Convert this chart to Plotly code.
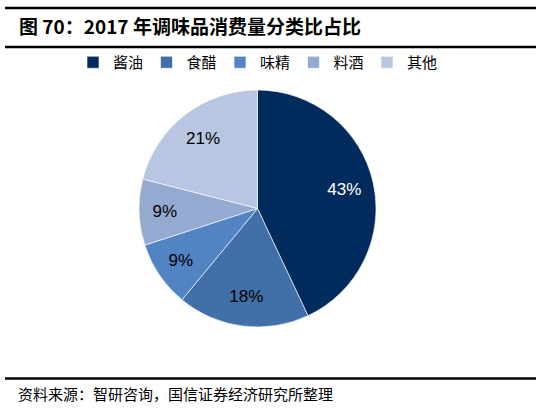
import plotly.graph_objects as go

# data
categories = ["酱油", "食醋", "味精", "料酒", "其他"]
shares = [43, 18, 9, 9, 21]
slice_colors = ["#002B5C", "#416FA8", "#5283C3", "#95AAD0", "#B8C6E2"]
label_colors = ["white", "black", "black", "black", "black"]

title_text = "图 70：2017 年调味品消费量分类比占比"
source_text = "资料来源：智研咨询，国信证券经济研究所整理"

W, H = 542, 409
cjk = "Noto Sans CJK SC"
pie_domain = dict(x=[139 / W, 376 / W], y=[1 - 327 / H, 1 - 90 / H])

fig = go.Figure()
fig.add_trace(go.Pie(
    labels=categories,
    values=shares,
    sort=False,
    direction="clockwise",
    rotation=0,
    marker=dict(colors=slice_colors, line=dict(color="white", width=0.6)),
    textinfo="none",
    hoverinfo="label+percent",
    domain=pie_domain,
))
# transparent ring on top only to place the % labels out toward the rim
fig.add_trace(go.Pie(
    labels=categories,
    values=shares,
    sort=False,
    direction="clockwise",
    rotation=0,
    hole=0.5,
    marker=dict(colors=["rgba(0,0,0,0)"] * len(shares), line=dict(width=0)),
    texttemplate="%{value}%",
    textposition="inside",
    insidetextorientation="horizontal",
    textfont=dict(family="Liberation Sans, Arial", size=17, color=label_colors),
    hoverinfo="skip",
    showlegend=False,
    domain=pie_domain,
))


def hline(y_px, x0=5, x1=536, width=2.4):
    fig.add_shape(type="line", xref="paper", yref="paper",
                  x0=x0 / W, x1=x1 / W, y0=1 - y_px / H, y1=1 - y_px / H,
                  line=dict(color="black", width=width), layer="above")


hline(8)
hline(47)
hline(378.5)

fig.add_annotation(text="<b>" + title_text + "</b>", xref="paper", yref="paper",
                   x=17 / W, y=1 - 26 / H, xanchor="left", yanchor="middle",
                   showarrow=False, font=dict(family=cjk, size=19, color="black"))
fig.add_annotation(text=source_text, xref="paper", yref="paper",
                   x=16 / W, y=1 - 393 / H, xanchor="left", yanchor="middle",
                   showarrow=False, font=dict(family=cjk, size=15, color="black"))

fig.update_layout(
    width=W, height=H,
    margin=dict(l=0, r=0, t=0, b=0, autoexpand=False),
    paper_bgcolor="white",
    plot_bgcolor="white",
    showlegend=True,
    legend=dict(orientation="h", x=73 / W, y=1 - 46 / H,
                xref="container", yref="container",
                xanchor="left", yanchor="top",
                bgcolor="rgba(0,0,0,0)",
                entrywidth=28.5, entrywidthmode="pixels",
                itemwidth=30, traceorder="normal",
                font=dict(family=cjk, size=15, color="black")),
)

# the page body has a default 8px margin; drop it so the figure sits at 0,0
fig.write_html("out.html", config={"displayModeBar": False},
               post_script="document.body.style.margin='0';")
